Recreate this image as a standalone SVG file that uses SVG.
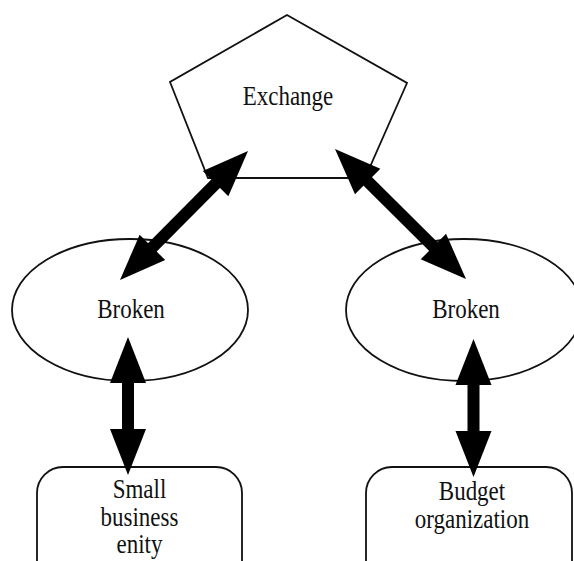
<svg xmlns="http://www.w3.org/2000/svg" width="574" height="561" viewBox="0 0 574 561">
  <style>
    .shape { fill: #fff; stroke: #111; stroke-width: 1.8; }
    .label { font-family: "Liberation Serif", "Times New Roman", serif; font-size: 23px; fill: #111; text-anchor: middle; }
    .conn { stroke: #000; stroke-width: 12; fill: none; marker-start: url(#head); marker-end: url(#head); }
  </style>
  <defs>
    <marker id="head" markerUnits="userSpaceOnUse" markerWidth="46" markerHeight="36" refX="26" refY="18" orient="auto-start-reverse" overflow="visible">
      <path d="M0,0 L46,18 L0,36 z" fill="#000"/>
    </marker>
  </defs>
  <rect width="574" height="561" fill="#fff"/>

  <g id="exchange">
    <polygon class="shape" points="287,15 407,83 365,178 208,178 170,82"/>
    <text class="label" transform="translate(288,105) scale(1,1.15)">Exchange</text>
  </g>
  <g id="broken-left">
    <ellipse class="shape" cx="130" cy="310" rx="118" ry="71"/>
    <text class="label" transform="translate(131,318) scale(1,1.15)">Broken</text>
  </g>
  <g id="broken-right">
    <ellipse class="shape" cx="464" cy="310" rx="118" ry="71"/>
    <text class="label" transform="translate(466,318) scale(1,1.15)">Broken</text>
  </g>
  <g id="small-business">
    <rect class="shape" x="37" y="467" width="205" height="120" rx="26"/>
    <text class="label" transform="translate(139.5,498) scale(1,1.15)">Small</text>
    <text class="label" transform="translate(139.5,526) scale(1,1.15)">business</text>
    <text class="label" transform="translate(139.5,553) scale(1,1.15)">enity</text>
  </g>
  <g id="budget-org">
    <rect class="shape" x="366" y="467" width="206" height="120" rx="26"/>
    <text class="label" transform="translate(472,500) scale(1,1.15)">Budget</text>
    <text class="label" transform="translate(472,528) scale(1,1.15)">organization</text>
  </g>

  <g id="connectors">
    <line class="conn" x1="134.1" y1="265.8" x2="233.9" y2="165.2"/>
    <line class="conn" x1="349.2" y1="163.1" x2="451.8" y2="264.9"/>
    <line class="conn" x1="128" y1="357" x2="128" y2="455"/>
    <line class="conn" x1="473.5" y1="359" x2="473.5" y2="457"/>
  </g>
</svg>
